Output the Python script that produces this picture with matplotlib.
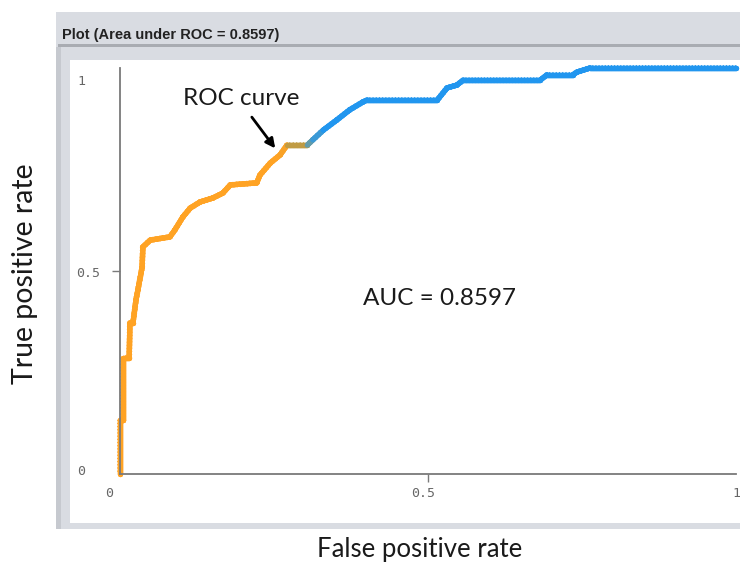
import matplotlib
matplotlib.use("Agg")
import matplotlib.pyplot as plt
import matplotlib.patheffects as pe
import numpy as np
from matplotlib.collections import LineCollection
from matplotlib.colors import LinearSegmentedColormap
from matplotlib.patches import Rectangle

# ROC curve vertices (false positive rate, true positive rate)
fpr = [0.000, 0.000, 0.005, 0.005, 0.015, 0.016, 0.021, 0.026, 0.029, 0.036,
       0.037, 0.049, 0.081, 0.089, 0.102, 0.114, 0.130, 0.151, 0.167, 0.179,
       0.222, 0.227, 0.244, 0.260, 0.271, 0.304, 0.313, 0.330, 0.352, 0.373,
       0.394, 0.401, 0.515, 0.531, 0.547, 0.557, 0.682, 0.693, 0.735, 0.742,
       0.763, 1.000]
tpr = [0.000, 0.133, 0.133, 0.286, 0.286, 0.372, 0.372, 0.429, 0.453, 0.510,
       0.559, 0.576, 0.584, 0.601, 0.633, 0.655, 0.670, 0.680, 0.692, 0.712,
       0.717, 0.736, 0.766, 0.786, 0.810, 0.810, 0.823, 0.847, 0.872, 0.897,
       0.916, 0.921, 0.921, 0.951, 0.958, 0.970, 0.970, 0.983, 0.983, 0.990,
       1.000, 1.000]
auc = 0.8597

W, H = 740, 563
fig = plt.figure(figsize=(W / 100, H / 100), dpi=100)
fig.patch.set_facecolor("white")

def px(x0, y0, w, h):
    # pixel box (top-left origin) -> figure fraction
    return (x0 / W, 1 - (y0 + h) / H, w / W, h / H)

def box(x0, y0, w, h, color):
    r = px(x0, y0, w, h)
    fig.patches.append(Rectangle(r[:2], r[2], r[3], transform=fig.transFigure,
                                 facecolor=color, edgecolor="none", zorder=-5))

# window frame
box(56, 12, 700, 517, "#d9dce2")
box(58, 44, 700, 3, "#a9acb2")
box(56, 47, 5, 482, "#c6c9cf")
box(70, 60, 680, 463, "white")
fig.text(62 / W, 1 - 35 / H, f"Plot (Area under ROC = {auc})", fontsize=10.5,
         fontweight="bold", family="Liberation Sans", color="#222222",
         va="center", ha="left")

# plot area: x 0..1 -> px 120..736, y 0..1 -> px 474..68
ax = fig.add_axes(px(120, 68, 616, 406))
ax.set_zorder(5)
ax.set_xlim(0, 1)
ax.set_ylim(0, 1)
ax.patch.set_alpha(0)
for s in ["top", "right"]:
    ax.spines[s].set_visible(False)
for s in ["left", "bottom"]:
    ax.spines[s].set_color("#7a7a7a")
    ax.spines[s].set_linewidth(1.3)
ax.set_xticks([0.5])
ax.set_yticks([0.5])
ax.tick_params(length=6, width=1, color="#7a7a7a", labelleft=False,
               labelbottom=False)

# colour shifts with the threshold along the curve
cmap = LinearSegmentedColormap.from_list(
    "thr", [(0.0, "#ffa324"), (0.26, "#ffa324"), (0.285, "#c69b3c"),
            (0.31, "#4f9bc0"), (0.335, "#2196ef"), (1.0, "#2196ef")])
pts = np.column_stack([fpr, tpr])
segs = np.stack([pts[:-1], pts[1:]], axis=1)
mids = (pts[:-1, 0] + pts[1:, 0]) / 2
lc = LineCollection(segs, colors=cmap(mids), linewidths=3.8,
                    capstyle="round", joinstyle="round", clip_on=False)
# small cross-hatched points along the curve give it a fuzzy edge
lc.set_path_effects([
    pe.Normal(),
    pe.withTickedStroke(spacing=2.2, angle=60, length=0.9, linewidth=0.9),
    pe.withTickedStroke(spacing=2.2, angle=-120, length=0.9, linewidth=0.9),
])
ax.add_collection(lc)

mono = dict(family="DejaVu Sans Mono", fontsize=9.5, color="#666666")
ax.text(-0.062, 0.966, "1", ha="center", va="center", **mono)
ax.text(-0.052, 0.495, "0.5", ha="center", va="center", **mono)
ax.text(-0.063, 0.007, "0", ha="center", va="center", **mono)
ax.text(-0.018, -0.047, "0", ha="center", va="center", **mono)
ax.text(0.492, -0.047, "0.5", ha="center", va="center", **mono)
ax.text(1.0, -0.047, "1", ha="center", va="center", **mono)

lab = dict(family="Lato", color="#1a1a1a")
ax.text(0.196, 0.926, "ROC curve", fontsize=17.5, ha="center", va="center",
        **lab)
ax.annotate("", xy=(0.252, 0.802), xytext=(0.214, 0.879),
            arrowprops=dict(arrowstyle="-|>", color="black", lw=2,
                            mutation_scale=14, shrinkA=0, shrinkB=0))
ax.text(0.519, 0.433, f"AUC = {auc}", fontsize=17.5, ha="center", va="center",
        **lab)

fig.text(420 / W, 1 - 549 / H, "False positive rate", fontsize=18.5,
         ha="center", va="center", **lab)
fig.text(25 / W, 1 - 274 / H, "True positive rate", fontsize=20.5,
         rotation=90, ha="center", va="center", **lab)

fig.savefig("out.png", dpi=100)
